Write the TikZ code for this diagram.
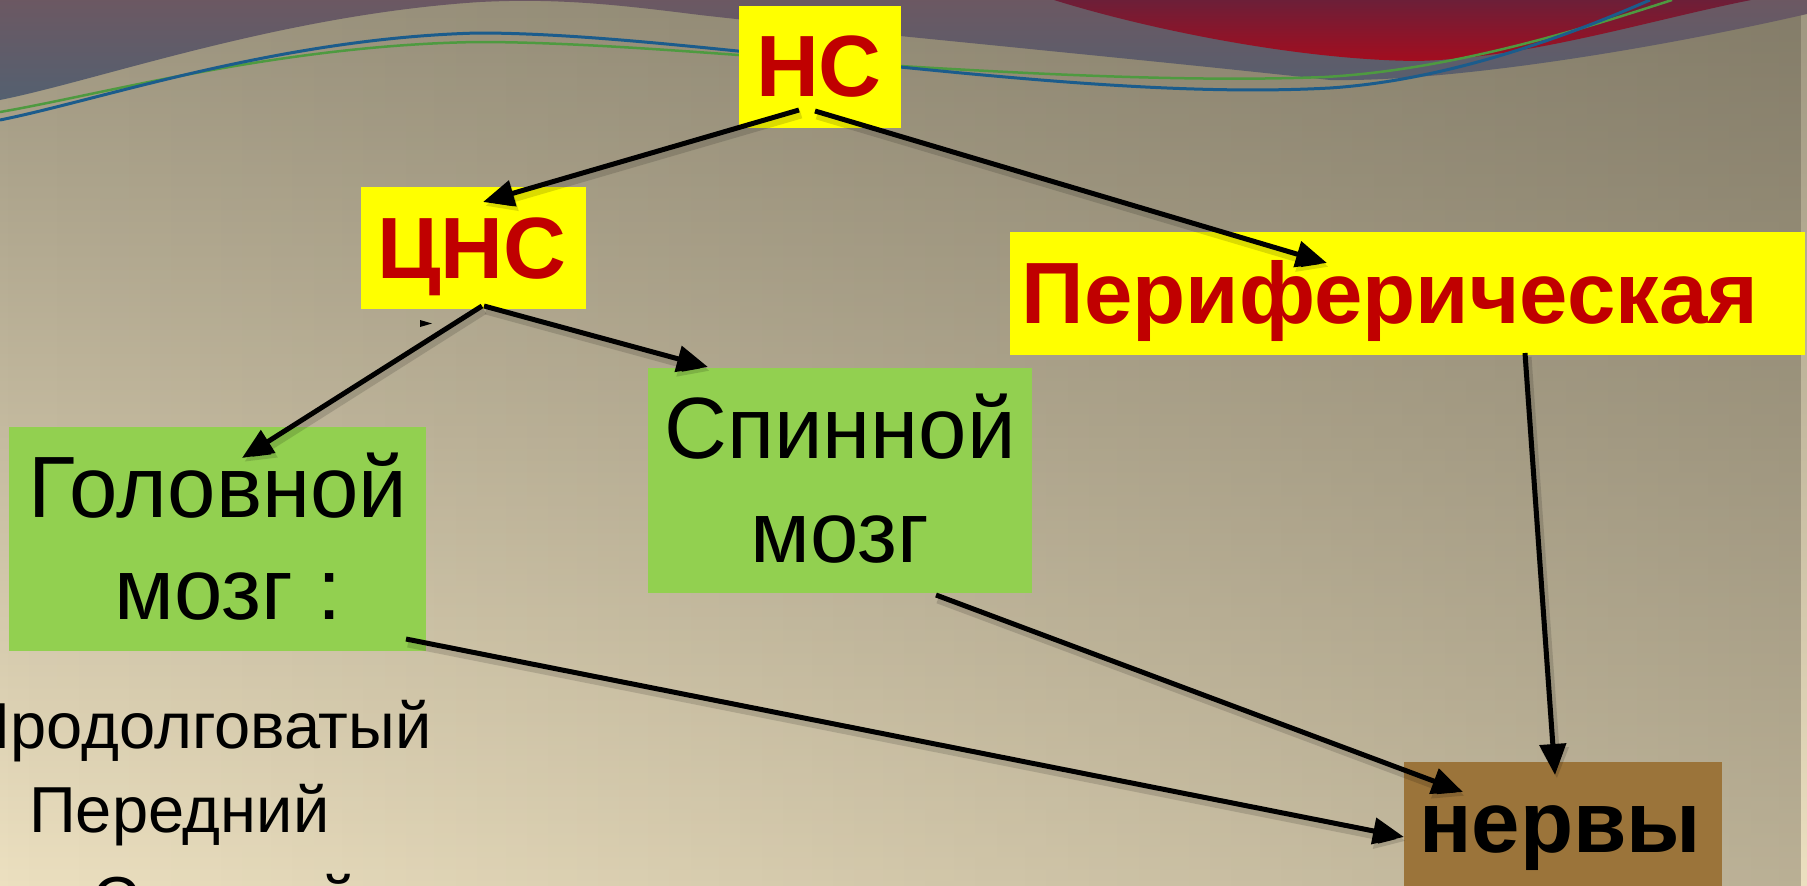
\documentclass[tikz,border=0pt]{standalone}
\usepackage{fontspec}
\setmainfont{Liberation Sans}
\usetikzlibrary{arrows.meta,calc,fadings}

\definecolor{boxyellow}{RGB}{255,255,0}
\definecolor{boxgreen}{RGB}{146,208,80}
\definecolor{boxbrown}{RGB}{155,116,58}
\definecolor{labelred}{RGB}{192,0,0}
\definecolor{bgtop}{RGB}{158,150,128}
\definecolor{bgbottom}{RGB}{236,224,192}
\definecolor{bgdark}{RGB}{70,64,50}
\definecolor{mauvetop}{RGB}{108,88,98}
\definecolor{mauvebottom}{RGB}{84,96,112}
\definecolor{redtop}{RGB}{108,31,56}
\definecolor{redbottom}{RGB}{163,13,31}
\definecolor{lineblue}{RGB}{27,92,140}
\definecolor{linegreen}{RGB}{78,154,64}

\tikzfading[name=rightdark, left color=transparent!100, right color=transparent!0]

\tikzset{
  box/.style={rectangle, inner sep=0pt, outer sep=0pt},
  ybox/.style={box, fill=boxyellow},
  gbox/.style={box, fill=boxgreen},
  bbox/.style={box, fill=boxbrown},
  redlbl/.style={inner sep=0pt, anchor=base, text=labelred,
    font=\fontsize{87}{104}\selectfont\bfseries},
  blacklbl/.style={inner sep=0pt, anchor=base, text=black,
    font=\fontsize{87}{104}\selectfont},
  boldlbl/.style={inner sep=0pt, anchor=base, text=black,
    font=\fontsize{87}{104}\selectfont\bfseries},
  listlbl/.style={inner sep=0pt, text=black,
    font=\fontsize{65}{78}\selectfont},
  conn/.style={draw=black, line width=5pt,
    -{Triangle[length=31pt,width=26pt]},
    preaction={draw=black, draw opacity=0.14, line width=9pt,
      transform canvas={xshift=2pt,yshift=-4pt}}},
}

\begin{document}
\begin{tikzpicture}[x=1pt,y=-1pt]
\useasboundingbox (0,0) rectangle (1807,886);
\begin{scope}
\clip (0,0) rectangle (1807,886);

% background: warm vertical gradient, darker towards the right
\shade[top color=bgtop, bottom color=bgbottom] (0,0) rectangle (1807,886);
\fill[bgdark, fill opacity=0.3, path fading=rightdark] (0,0) rectangle (1807,886);

% dark band along the top edge
\shade[top color=mauvetop, bottom color=mauvebottom]
  (0,0) -- (1807,0) -- (1807,14)
  .. controls (1650,50) and (1450,82) .. (1330,80)
  .. controls (1150,60) and (850,32) .. (700,15)
  .. controls (620,5) and (560,-2) .. (480,2)
  .. controls (280,15) and (100,80) .. (0,100) -- cycle;

% red swoosh, upper right
\shade[top color=redtop, bottom color=redbottom]
  (1054,0) .. controls (1150,30) and (1300,60) .. (1417,61)
  .. controls (1530,58) and (1650,20) .. (1751,0) -- cycle;

% thin decorative lines
\draw[linegreen, line width=2.5pt]
  (0,112) .. controls (100,95) and (280,45) .. (478,42)
  .. controls (600,42) and (760,58) .. (900,66)
  .. controls (1050,75) and (1200,82) .. (1325,77)
  .. controls (1450,70) and (1580,30) .. (1672,0);
\draw[lineblue, line width=3pt]
  (0,120) .. controls (100,100) and (280,38) .. (478,33)
  .. controls (600,33) and (760,55) .. (900,67)
  .. controls (1050,82) and (1200,95) .. (1330,88)
  .. controls (1450,80) and (1570,35) .. (1650,0);

% boxes
\node[ybox, minimum width=162pt, minimum height=122pt] (hc)   at (820,67)     {};
\node[ybox, minimum width=225pt, minimum height=122pt] (cns)  at (473.5,248)  {};
\node[ybox, minimum width=795pt, minimum height=123pt] (per)  at (1407.5,293.5) {};
\node[gbox, minimum width=417pt, minimum height=224pt] (gol)  at (217.5,539)  {};
\node[gbox, minimum width=384pt, minimum height=225pt] (spin) at (840,480.5)  {};
\node[bbox, minimum width=318pt, minimum height=140pt] (nerv) at (1563,832)   {};

% labels
\node[redlbl] (hct)   at (819,96)   {НС};
\node[redlbl] (cnst)  at (472,278)  {ЦНС};
\node[redlbl] (pert)  at (1390,323) {Периферическая};
\node[blacklbl] (golt1) at (218,517) {Головной};
\node[blacklbl] (golt2) at (228,619) {мозг :};
\node[blacklbl] (spint1) at (840,458) {Спинной};
\node[blacklbl] (spint2) at (840,562) {мозг};
\node[boldlbl] (nervt) at (1560,852) {нервы};

% parts of the brain
\node[listlbl, anchor=base east] (l1) at (432,748) {Продолговатый};
\node[listlbl, anchor=base west] (l2) at (29,832)  {Передний};
\node[listlbl, anchor=base west] (l3) at (92,922)  {Средний};

% small stray arrowhead below the ЦНС box
\fill[black] (420,320) -- (432,323.5) -- (420,327) -- cycle;

% connectors
\draw[conn] ($(hc.center)+(-21,43)$)   -- ($(cns.center)+(9.5,-46)$);
\draw[conn] ($(hc.center)+(-5,44)$)    -- ($(per.center)+(-80.5,-30.5)$);
\draw[conn] ($(cns.center)+(8.5,58)$)  -- ($(gol.center)+(24.5,-81)$);
\draw[conn] ($(cns.center)+(10.5,58)$) -- ($(spin.center)+(-132,-113.5)$);
\draw[conn] ($(gol.center)+(188.5,100)$) -- ($(nerv.center)+(-159,5)$);
\draw[conn] ($(spin.center)+(96,114.5)$) -- ($(nerv.center)+(-100,-40)$);
\draw[conn] ($(per.center)+(117.5,59.5)$) -- ($(nerv.center)+(-8,-57)$);
\end{scope}
\end{tikzpicture}
\end{document}
